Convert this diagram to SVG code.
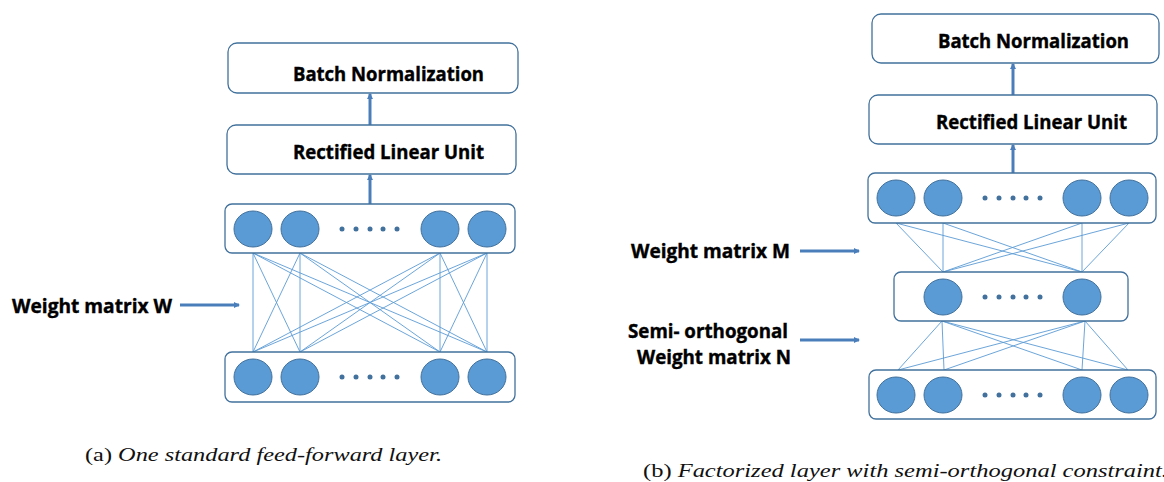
<svg xmlns="http://www.w3.org/2000/svg" width="1164" height="482" viewBox="0 0 1164 482">
  <style>
    .box { fill: #ffffff; stroke: #41719c; stroke-width: 1.3; }
    .unit { fill: #5b9bd5; stroke: #41719c; stroke-width: 1; }
    .dot { fill: #41719c; }
    .label { font-family: "Open Sans", "Liberation Sans", sans-serif; font-weight: 700; font-size: 19.5px; fill: #000000; stroke: #000000; stroke-width: 0.4; }
    .cap { font-family: "Liberation Serif", "DejaVu Serif", serif; font-size: 18.5px; fill: #111111; }
    .cap .it { font-style: italic; }
    .weight line { stroke: #5b9bd5; stroke-width: 0.9; }
    .flow { stroke: #4a7ebb; stroke-width: 3; fill: none; }
  </style>
  <defs>
    <marker id="tip" viewBox="0 0 6 6" refX="5" refY="3" markerWidth="2" markerHeight="2" orient="auto">
      <path d="M0,0 L6,3 L0,6 Z" fill="#4a7ebb"/>
    </marker>
    <g id="unitRow">
      <ellipse class="unit" cx="0" cy="0" rx="19" ry="18"/>
    </g>
    <g id="dots">
      <circle class="dot" cx="0" cy="0" r="2.5"/>
      <circle class="dot" cx="14" cy="0" r="2.5"/>
      <circle class="dot" cx="28" cy="0" r="2.5"/>
      <circle class="dot" cx="41" cy="0" r="2.5"/>
      <circle class="dot" cx="55" cy="0" r="2.5"/>
    </g>
  </defs>

  <!-- ===== (a) standard feed-forward layer ===== -->
  <g id="a-connectors">
    <g class="weight">
      <line x1="253" y1="253" x2="253" y2="352"/>
      <line x1="253" y1="253" x2="300" y2="352"/>
      <line x1="253" y1="253" x2="440" y2="352"/>
      <line x1="253" y1="253" x2="487" y2="352"/>
      <line x1="300" y1="253" x2="253" y2="352"/>
      <line x1="300" y1="253" x2="300" y2="352"/>
      <line x1="300" y1="253" x2="440" y2="352"/>
      <line x1="300" y1="253" x2="487" y2="352"/>
      <line x1="440" y1="253" x2="253" y2="352"/>
      <line x1="440" y1="253" x2="300" y2="352"/>
      <line x1="440" y1="253" x2="440" y2="352"/>
      <line x1="440" y1="253" x2="487" y2="352"/>
      <line x1="487" y1="253" x2="253" y2="352"/>
      <line x1="487" y1="253" x2="300" y2="352"/>
      <line x1="487" y1="253" x2="440" y2="352"/>
      <line x1="487" y1="253" x2="487" y2="352"/>
    </g>
    <line class="flow" x1="370" y1="204" x2="370" y2="175" marker-end="url(#tip)"/>
    <line class="flow" x1="370" y1="125" x2="370" y2="94" marker-end="url(#tip)"/>
    <line class="flow" x1="180" y1="305" x2="239" y2="305" marker-end="url(#tip)"/>
  </g>

  <g id="a-batchnorm">
    <rect class="box" x="228" y="43" width="290" height="50" rx="9"/>
    <text class="label" x="293" y="81" textLength="191" lengthAdjust="spacingAndGlyphs">Batch Normalization</text>
  </g>
  <g id="a-relu">
    <rect class="box" x="227" y="125" width="289" height="49" rx="9"/>
    <text class="label" x="293" y="159" textLength="191" lengthAdjust="spacingAndGlyphs">Rectified Linear Unit</text>
  </g>
  <g id="a-layer-top">
    <rect class="box" x="225" y="204" width="290" height="49" rx="7"/>
    <use href="#unitRow" x="253" y="229"/>
    <use href="#unitRow" x="300" y="229"/>
    <use href="#dots" x="342" y="229"/>
    <use href="#unitRow" x="440" y="229"/>
    <use href="#unitRow" x="487" y="229"/>
  </g>
  <g id="a-layer-bottom">
    <rect class="box" x="225" y="352" width="290" height="50" rx="7"/>
    <use href="#unitRow" x="253" y="377"/>
    <use href="#unitRow" x="300" y="377"/>
    <use href="#dots" x="342" y="377"/>
    <use href="#unitRow" x="440" y="377"/>
    <use href="#unitRow" x="487" y="377"/>
  </g>
  <g id="a-weight-label">
    <text class="label" x="12" y="313" textLength="160" lengthAdjust="spacingAndGlyphs">Weight matrix W</text>
  </g>
  <text class="cap" x="85" y="461" textLength="357" lengthAdjust="spacingAndGlyphs">(a) <tspan class="it">One standard feed-forward layer.</tspan></text>

  <!-- ===== (b) factorized layer ===== -->
  <g id="b-connectors">
    <g class="weight">
      <line x1="896" y1="223" x2="943" y2="272"/>
      <line x1="896" y1="223" x2="1082" y2="272"/>
      <line x1="943" y1="223" x2="943" y2="272"/>
      <line x1="943" y1="223" x2="1082" y2="272"/>
      <line x1="1082" y1="223" x2="943" y2="272"/>
      <line x1="1082" y1="223" x2="1082" y2="272"/>
      <line x1="1129" y1="223" x2="943" y2="272"/>
      <line x1="1129" y1="223" x2="1082" y2="272"/>

      <line x1="942" y1="321" x2="898" y2="370"/>
      <line x1="942" y1="321" x2="944" y2="370"/>
      <line x1="942" y1="321" x2="1082" y2="370"/>
      <line x1="942" y1="321" x2="1128" y2="370"/>
      <line x1="1085" y1="321" x2="898" y2="370"/>
      <line x1="1085" y1="321" x2="944" y2="370"/>
      <line x1="1085" y1="321" x2="1082" y2="370"/>
      <line x1="1085" y1="321" x2="1128" y2="370"/>
    </g>
    <line class="flow" x1="1013" y1="173" x2="1013" y2="145" marker-end="url(#tip)"/>
    <line class="flow" x1="1013" y1="95" x2="1013" y2="64" marker-end="url(#tip)"/>
    <line class="flow" x1="800" y1="251" x2="859" y2="251" marker-end="url(#tip)"/>
    <line class="flow" x1="800" y1="340" x2="859" y2="340" marker-end="url(#tip)"/>
  </g>

  <g id="b-batchnorm">
    <rect class="box" x="872" y="14" width="287" height="49" rx="9"/>
    <text class="label" x="938" y="48" textLength="191" lengthAdjust="spacingAndGlyphs">Batch Normalization</text>
  </g>
  <g id="b-relu">
    <rect class="box" x="869" y="95" width="288" height="49" rx="9"/>
    <text class="label" x="936" y="129" textLength="191" lengthAdjust="spacingAndGlyphs">Rectified Linear Unit</text>
  </g>
  <g id="b-layer-top">
    <rect class="box" x="868" y="173" width="288" height="50" rx="7"/>
    <use href="#unitRow" x="896" y="198"/>
    <use href="#unitRow" x="943" y="198"/>
    <use href="#dots" x="985" y="198"/>
    <use href="#unitRow" x="1082" y="198"/>
    <use href="#unitRow" x="1129" y="198"/>
  </g>
  <g id="b-layer-middle">
    <rect class="box" x="894" y="272" width="234" height="49" rx="7"/>
    <use href="#unitRow" x="943" y="297"/>
    <use href="#dots" x="985" y="297"/>
    <use href="#unitRow" x="1082" y="297"/>
  </g>
  <g id="b-layer-bottom">
    <rect class="box" x="869" y="370" width="287" height="49" rx="7"/>
    <use href="#unitRow" x="896" y="395"/>
    <use href="#unitRow" x="943" y="395"/>
    <use href="#dots" x="985" y="395"/>
    <use href="#unitRow" x="1082" y="395"/>
    <use href="#unitRow" x="1129" y="395"/>
  </g>
  <g id="b-weight-m-label">
    <text class="label" x="631" y="258" textLength="159" lengthAdjust="spacingAndGlyphs">Weight matrix M</text>
  </g>
  <g id="b-weight-n-label">
    <text class="label" x="628" y="338" textLength="160" lengthAdjust="spacingAndGlyphs">Semi- orthogonal</text>
    <text class="label" x="637" y="364" textLength="154" lengthAdjust="spacingAndGlyphs">Weight matrix N</text>
  </g>
  <text class="cap" x="643" y="477" textLength="525" lengthAdjust="spacingAndGlyphs">(b) <tspan class="it">Factorized layer with semi-orthogonal constraint.</tspan></text>
</svg>
